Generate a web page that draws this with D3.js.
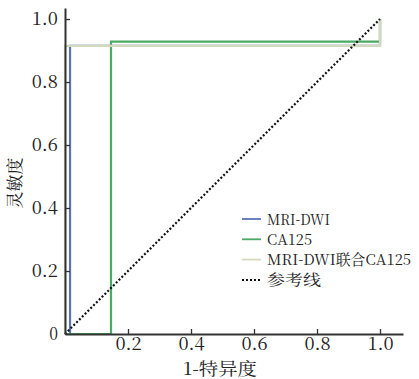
<!DOCTYPE html>
<html><head><meta charset="utf-8">
<script src="https://cdn.jsdelivr.net/npm/d3@7/dist/d3.min.js"></script>
<style>body{margin:0;background:#fff}svg{display:block}</style>
</head><body><div id="chart"></div>
<script>
const seriesNames=["MRI-DWI","CA125","MRI-DWI联合CA125","参考线"];
const mriDwi=[[0,0],[0.016,0],[0.016,0.915],[1,0.915],[1,1]];
const ca125=[[0,0],[0.146,0],[0.146,0.928],[1,0.928],[1,1]];
const combined=[[0,0],[0,0.915],[1,0.915],[1,1]];
const reference=[[0,0],[1,1]];
const xTicks=[0.2,0.4,0.6,0.8,1.0];
const yTicks=[0,0.2,0.4,0.6,0.8,1.0];

(function(){
  const W=419,H=379;
  const font='"Noto Serif CJK SC","Liberation Serif",serif';
  // song-style width: latin half an em, CJK a full em
  const emWidth=(t,em)=>Array.from(String(t)).reduce((a,c)=>a+(c.charCodeAt(0)>0x2e80?1:0.5),0)*em;
  const svg=d3.select("#chart").append("svg").attr("width",W).attr("height",H);
  const x=d3.scaleLinear().domain([0,1.073]).range([65,403]);
  const y=d3.scaleLinear().domain([0,1.035]).range([334,8]);

  const line=d3.line().x(d=>x(d[0])).y(d=>y(d[1]));
  const colors=["#5a72b8","#4caa63","#d3d9bd","#111"];
  const data=[mriDwi,ca125,combined,reference];
  data.forEach((dd,i)=>{
    svg.append("path").datum(dd).attr("d",line).attr("fill","none")
      .attr("stroke",colors[i]).attr("stroke-width",2.2)
      .attr("stroke-dasharray",i===3?"2,2":null);
  });

  const styleAxis=s=>{
    s.select(".domain").attr("stroke","#333").attr("stroke-width",2);
    s.selectAll("line").attr("stroke","#333").attr("stroke-width",1.3);
    s.selectAll("text").attr("fill","#222").attr("font-size",17.5).style("font-family",font)
      .attr("textLength",function(){return emWidth(this.textContent,17.5)}).attr("lengthAdjust","spacingAndGlyphs");
  };
  svg.append("g").attr("transform","translate(0,334)")
    .call(d3.axisBottom(x).tickValues(xTicks).tickFormat(d3.format(".1f")).tickSizeInner(-5).tickSizeOuter(0).tickPadding(4))
    .call(styleAxis);
  svg.append("g").attr("transform","translate(65,0)")
    .call(d3.axisLeft(y).tickValues(yTicks).tickFormat(d=>d===0?"0":d3.format(".1f")(d)).tickSizeInner(-5).tickSizeOuter(0).tickPadding(7))
    .call(styleAxis)
    .call(s=>s.selectAll(".tick").filter(d=>d===0).select("line").remove());

  const xt="1-特异度", yt="灵敏度";
  svg.append("text").attr("x",220).attr("y",375).attr("text-anchor","middle")
    .attr("font-size",17).style("font-family",font).attr("fill","#222")
    .attr("textLength",emWidth(xt,18.5)).attr("lengthAdjust","spacingAndGlyphs").text(xt);
  svg.append("text").attr("transform","translate(21,183) rotate(-90)").attr("text-anchor","middle")
    .attr("font-size",17).style("font-family",font).attr("fill","#222").text(yt);

  const lg=svg.append("g").attr("transform","translate(242,219)");
  seriesNames.forEach((n,i)=>{
    const row=lg.append("g").attr("transform",`translate(0,${i*20.3})`);
    row.append("line").attr("x1",0).attr("x2",19).attr("stroke",colors[i]).attr("stroke-width",i===3?2:1.8)
      .attr("stroke-dasharray",i===3?"2,2":null);
    row.append("text").attr("x",25).attr("y",5.5).attr("font-size",15).style("font-family",font)
      .attr("fill","#222").attr("textLength",emWidth(n,18)).attr("lengthAdjust","spacingAndGlyphs").text(n);
  });
})();
</script></body></html>
